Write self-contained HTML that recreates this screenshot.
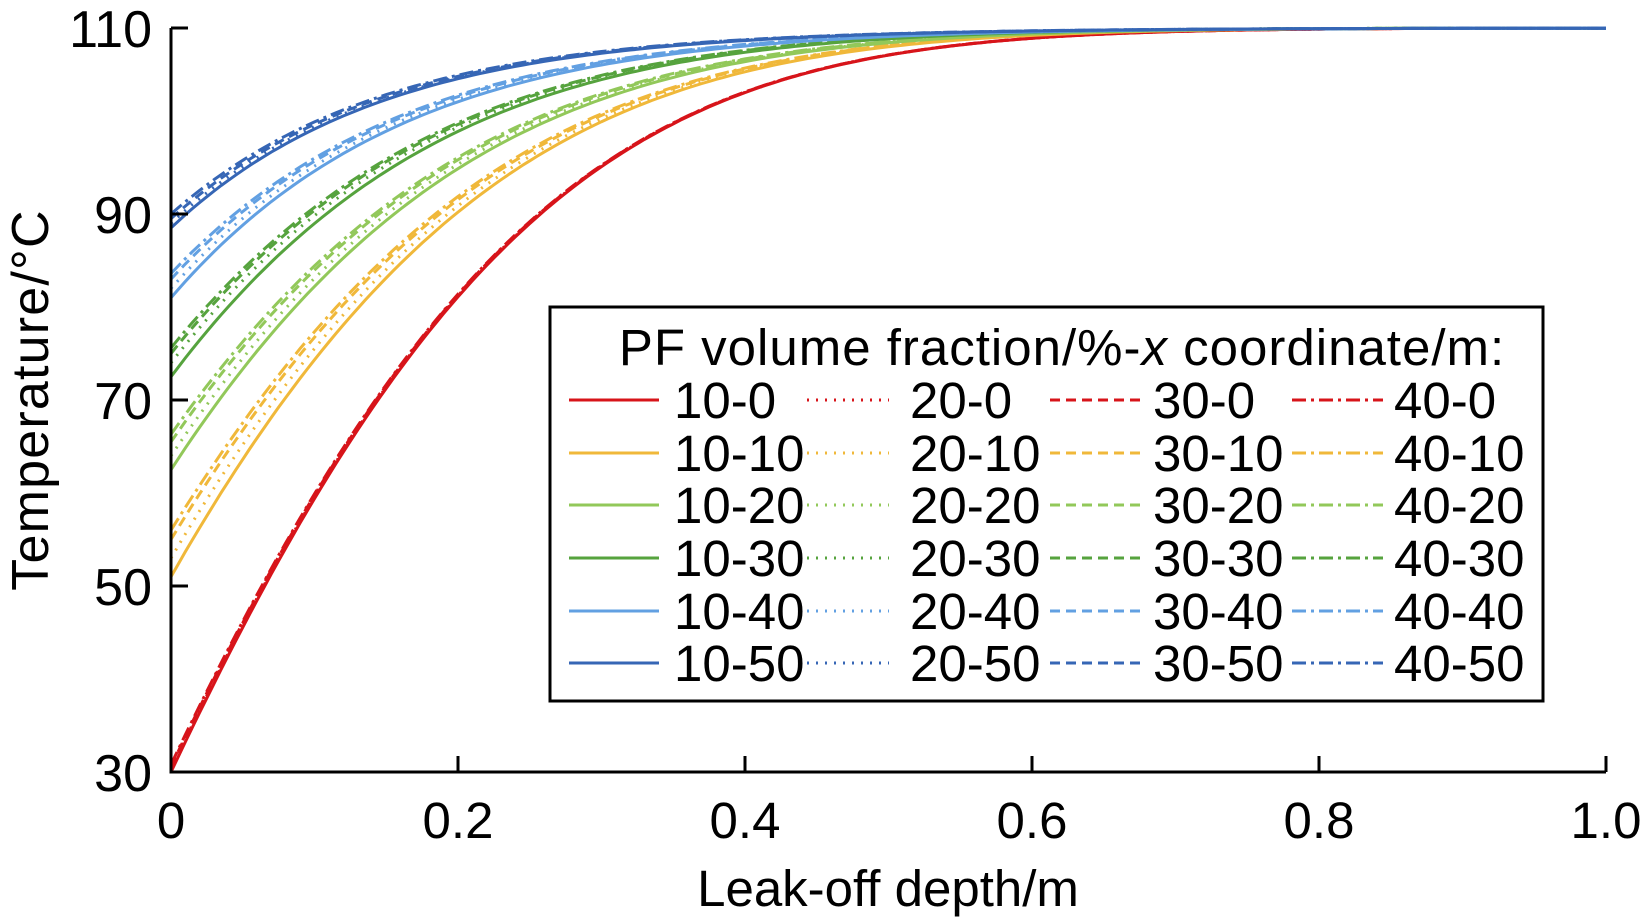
<!DOCTYPE html>
<html><head><meta charset="utf-8"><style>
html,body{margin:0;padding:0;background:#fff;}
svg{display:block;font-family:"Liberation Sans",Arial,sans-serif;}
</style></head><body>
<svg id="s" width="1648" height="923" viewBox="0 0 1648 923" xmlns="http://www.w3.org/2000/svg">
<g id="curves" fill="none" stroke-width="3"></g>
<g stroke="#000" stroke-width="3" fill="none">
<path d="M171 28 V772 H1606"/>
<path d="M171 28 H188 M171 214 H188 M171 400 H188 M171 586 H188"/>
<path d="M458 772 V756 M745 772 V756 M1032 772 V756 M1319 772 V756 M1606 772 V756"/>
</g>
<g font-size="52" text-anchor="end" fill="#000">
<text x="152" y="47">110</text><text x="152" y="233">90</text><text x="152" y="419">70</text><text x="152" y="605">50</text><text x="152" y="791">30</text>
</g>
<g font-size="51" text-anchor="middle" fill="#000">
<text x="171" y="838">0</text><text x="458" y="838">0.2</text><text x="745" y="838">0.4</text><text x="1032" y="838">0.6</text><text x="1319" y="838">0.8</text><text x="1606" y="838">1.0</text>
<text x="888" y="906">Leak-off depth/m</text>
<text transform="translate(48,400) rotate(-90)" font-size="52" letter-spacing="1.2">Temperature/°C</text>
</g>
<rect x="550" y="307" width="993" height="394" fill="#fff" stroke="#000" stroke-width="3"/>
<text x="1062" y="365" font-size="51" letter-spacing="1" text-anchor="middle">PF volume fraction/%-<tspan font-style="italic">x</tspan> coordinate/m:</text>
<g id="leg" font-size="51"></g>
</svg>
<script>
var cols=["#D7141A","#F0B83A","#92C85A","#56A33E","#62A0E2","#3666B5"];
var t0=[[30,30.3,30.6,30.8],[51,53,55,56],[62.5,64,65.5,66.3],[72.5,74,75,75.6],[81,82,83,83.6],[88.5,89,89.5,90]];
var pb=[4.07,4.6,5.0,5.5,6.2,6.8],pc=[5.1,4.3,3.6,2.9,1.4,0.3];
var dash=[null,"2 7","10 6","14 5 3 5"];
var g=document.getElementById("curves"),L=document.getElementById("leg");
var ns="http://www.w3.org/2000/svg";
function X(x){return 171+x*1435;}function Y(t){return 772-(t-30)*9.3;}
for(var c=0;c<6;c++)for(var k=3;k>=0;k--){
 var d="";for(var i=0;i<=200;i++){var x=i/200;var f=Math.exp(-x*pb[c]-x*x*pc[c]);var T=110-(110-t0[c][k])*f;d+=(i?"L":"M")+X(x).toFixed(1)+" "+Y(T).toFixed(1);}
 var p=document.createElementNS(ns,"path");p.setAttribute("d",d);p.setAttribute("stroke",cols[c]);if(dash[k])p.setAttribute("stroke-dasharray",dash[k]);g.appendChild(p);}
var lx=[[569,659,674],[807,889,910],[1050,1140,1153],[1292,1383,1394]];
var ry=[400,453,505,558,611,663];var pre=["10","20","30","40"],suf=["0","10","20","30","40","50"];
for(var c=0;c<6;c++)for(var k=0;k<4;k++){
 var l=document.createElementNS(ns,"line");l.setAttribute("x1",lx[k][0]);l.setAttribute("x2",lx[k][1]);l.setAttribute("y1",ry[c]);l.setAttribute("y2",ry[c]);l.setAttribute("stroke",cols[c]);l.setAttribute("stroke-width",3);if(dash[k])l.setAttribute("stroke-dasharray",dash[k]);L.appendChild(l);
 var t=document.createElementNS(ns,"text");t.setAttribute("x",lx[k][2]);t.setAttribute("y",ry[c]+18);t.textContent=pre[k]+"-"+suf[c];L.appendChild(t);}
</script>
</body></html>
